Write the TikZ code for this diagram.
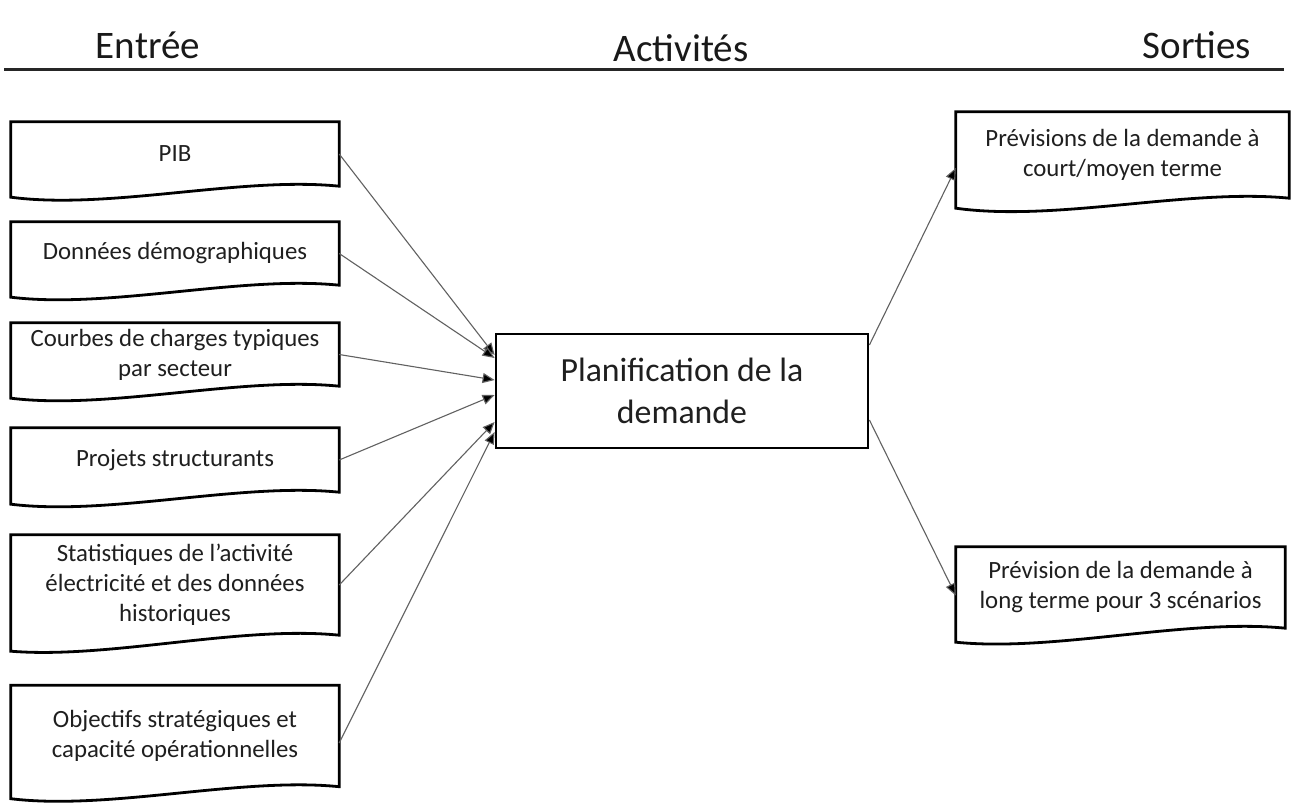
\documentclass[tikz,border=0pt]{standalone}
\usepackage{fontspec}
\setmainfont{Carlito}
\usetikzlibrary{arrows.meta,calc}
\begin{document}
\begin{tikzpicture}[x=1pt,y=-1pt,
  title/.style={inner sep=0pt, font=\fontsize{39}{44}\selectfont, text=black!90},
  doc/.style={inner sep=0pt, align=center, font=\fontsize{24.8}{30}\selectfont, text=black!88},
  docline/.style={draw=black, line width=2.8pt, fill=white, line join=miter},
  center/.style={draw=black, line width=2.8pt, inner sep=0pt, align=center,
    minimum width=372pt, minimum height=114pt, font=\fontsize{33.8}{42}\selectfont, text=black!88},
  link/.style={draw=black!62, line width=1.1pt, -{Triangle[length=12pt,width=10pt,fill=black]}}
]
\useasboundingbox (0,0) rectangle (1291,805);
\fill[white] (0,0) rectangle (1291,805);

% header
\node[title] (tin) at (148,45) {Entrée};
\node[title] (tact) at (681,48) {Activités};
\node[title] (tout) at (1197,45) {Sorties};
\coordinate (hl) at (4,70);
\coordinate (hr) at (1284,70);
\draw[line width=3pt, black!85] (hl) -- (hr);

% input documents (rectangular part)
\node[doc, minimum width=328pt, minimum height=64pt] (pib) at (175,154) {};
\node[doc, minimum width=328pt, minimum height=63pt] (dem) at (175,253.5) {};
\node[doc, minimum width=328pt, minimum height=63pt] (cou) at (175,354.5) {};
\node[doc, minimum width=328pt, minimum height=64pt] (pro) at (175,460) {};
\node[doc, minimum width=328pt, minimum height=100pt] (sta) at (175,585) {};
\node[doc, minimum width=328pt, minimum height=101pt] (obj) at (175,736) {};

% output documents
\node[doc, minimum width=333pt, minimum height=86pt] (out1) at (1122.5,155) {};
\node[doc, minimum width=329pt, minimum height=81pt] (out2) at (1120.5,587.5) {};

% document outlines
\foreach \n/\d in {pib/11, dem/12, cou/12, pro/12, sta/16, obj/12, out1/10, out2/14}{
  \draw[docline] (\n.north west) -- (\n.north east) -- (\n.south east)
    .. controls ($(\n.south west)!0.7!(\n.south east)+(0,-10)$)
       and ($(\n.south west)!0.3!(\n.south east)+(0,24)$)
    .. ($(\n.south west)+(0,\d)$) -- cycle;
}
% texts
\foreach \n/\t in {pib/{PIB}, dem/{Données démographiques}, cou/{Courbes de charges typiques\\par secteur}, pro/{Projets structurants}, sta/{Statistiques de l’activité\\électricité et des données\\historiques}, obj/{Objectifs stratégiques et\\capacité opérationnelles}, out1/{Prévisions de la demande à\\court/moyen terme}, out2/{Prévision de la demande à\\long terme pour 3 scénarios}}{
  \node[doc] (\n-text) at (\n.center) {\t};
}

% activity
\node[center] (plan) at (682,391) {Planification de la\\demande};

% connectors
\draw[link] (pib.east) -- ([yshift=36pt]plan.west);
\draw[link] (dem.east) -- ([yshift=33pt]plan.west);
\draw[link] (cou.east) -- ([yshift=11pt]plan.west);
\draw[link] (pro.east) -- ([yshift=-4pt]plan.west);
\draw[link] (sta.east) -- ([yshift=-31pt]plan.west);
\draw[link] ([yshift=-7pt]obj.east) -- ([yshift=-41pt]plan.west);
\draw[link] ([yshift=46pt]plan.east) -- ([yshift=-13pt]out1.west);
\draw[link] ([yshift=-29pt]plan.east) -- ([yshift=-8pt]out2.west);
\end{tikzpicture}
\end{document}
